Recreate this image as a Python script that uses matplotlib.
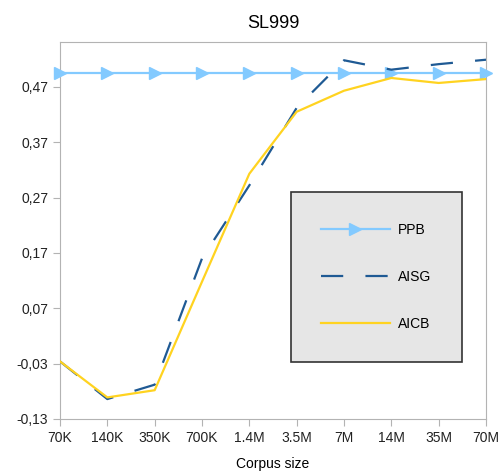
import numpy as np
import matplotlib
matplotlib.use('Agg')
from matplotlib import pyplot as plt
from matplotlib.ticker import FuncFormatter

plt.rcParams['font.family'] = ['Liberation Sans', 'DejaVu Sans']

sizes = ['70K', '140K', '350K', '700K', '1.4M', '3.5M', '7M', '14M', '35M', '70M']
ppb = [0.495, 0.495, 0.495, 0.495, 0.495, 0.495, 0.495, 0.495, 0.495, 0.495]
aisg = [-0.026, -0.094, -0.068, 0.160, 0.292, 0.432, 0.518, 0.501, 0.511, 0.519]
aicb = [-0.026, -0.091, -0.078, 0.118, 0.313, 0.425, 0.463, 0.486, 0.477, 0.484]
yticks = [-0.13, -0.03, 0.07, 0.17, 0.27, 0.37, 0.47]

fig = plt.figure(figsize=(5.01, 4.74), dpi=100)
ax = fig.add_axes([60/501, 1 - 419/474, 426/501, 377/474])

x = np.arange(len(sizes))
ax.plot(x, ppb, color='#83caff', lw=1.6, marker='>', ms=8, clip_on=False, label='PPB', zorder=3)
ax.plot(x, aisg, color='#1f5a94', lw=1.6, dashes=(10, 10), label='AISG', zorder=4)
ax.plot(x, aicb, color='#ffd320', lw=1.6, label='AICB', zorder=5)

ax.set_xlim(0, len(sizes) - 1)
ax.set_ylim(-0.13, 0.551)
ax.set_xticks(x)
ax.set_xticklabels(sizes)
ax.set_yticks(yticks)
ax.yaxis.set_major_formatter(FuncFormatter(lambda v, p: ('%.2f' % v).replace('.', ',')))

for side in ['top', 'right', 'left', 'bottom']:
    ax.spines[side].set_color('#b3b3b3')
ax.tick_params(colors='#b3b3b3', labelcolor='#222222', labelsize=10, length=5, direction='out')

ax.set_title('SL999', fontsize=13, pad=10)
ax.set_xlabel('Corpus size', fontsize=10, labelpad=9)

leg = ax.legend(loc='upper left', bbox_to_anchor=(0.542, 0.602), fontsize=10,
                labelspacing=2.4, borderpad=2.2, handlelength=4.9, handletextpad=0.6,
                numpoints=1, fancybox=False, framealpha=1, borderaxespad=0)
leg.get_frame().set_facecolor('#e6e6e6')
leg.get_frame().set_edgecolor('#333333')
leg.get_frame().set_linewidth(1.2)

plt.savefig('out.png', dpi=100)
plt.close(fig)
